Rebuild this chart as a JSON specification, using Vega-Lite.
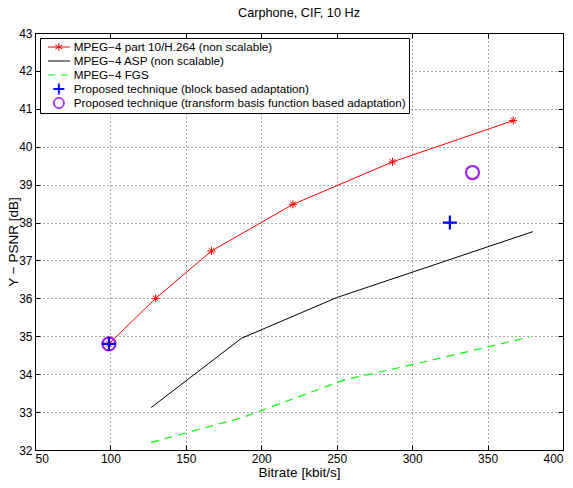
{
  "$schema": "https://vega.github.io/schema/vega-lite/v6.json",
  "width": 528,
  "height": 417,
  "autosize": {"type": "none"},
  "padding": {"left": 35, "top": 33, "right": 10, "bottom": 38},
  "background": "white",
  "title": {"text": "Carphone, CIF, 10 Hz", "fontSize": 12.7, "fontWeight": "normal", "font": "Liberation Sans", "offset": 7, "color": "black"},
  "datasets": {
    "h264": [
      {"bitrate": 99, "psnr": 34.8},
      {"bitrate": 130, "psnr": 36.0},
      {"bitrate": 167, "psnr": 37.25},
      {"bitrate": 221, "psnr": 38.48},
      {"bitrate": 287, "psnr": 39.6},
      {"bitrate": 367, "psnr": 40.69}
    ],
    "asp": [
      {"bitrate": 127, "psnr": 33.12},
      {"bitrate": 187, "psnr": 34.95},
      {"bitrate": 250, "psnr": 36.02},
      {"bitrate": 380, "psnr": 37.76}
    ],
    "fgs": [
      {"bitrate": 127, "psnr": 32.2},
      {"bitrate": 187, "psnr": 32.85},
      {"bitrate": 255, "psnr": 33.85},
      {"bitrate": 300, "psnr": 34.25},
      {"bitrate": 378, "psnr": 34.98}
    ],
    "block": [
      {"bitrate": 99, "psnr": 34.8},
      {"bitrate": 325, "psnr": 38.0}
    ],
    "transform": [
      {"bitrate": 99, "psnr": 34.8},
      {"bitrate": 340, "psnr": 39.32}
    ],
    "legend": [
      {"series": "MPEG−4 part 10/H.264 (non scalable)", "bitrate": null, "psnr": null},
      {"series": "MPEG−4 ASP (non scalable)", "bitrate": null, "psnr": null},
      {"series": "MPEG−4 FGS", "bitrate": null, "psnr": null},
      {"series": "Proposed technique (block based adaptation)", "bitrate": null, "psnr": null},
      {"series": "Proposed technique (transform basis function based adaptation)", "bitrate": null, "psnr": null}
    ]
  },
  "layer": [
    {
      "data": {"name": "h264"},
      "mark": {"type": "line", "color": "#ff0000", "strokeWidth": 1},
      "encoding": {
        "x": {"field": "bitrate", "type": "quantitative", "scale": {"domain": [50, 400], "nice": false, "zero": false},
          "axis": {"orient": "bottom", "values": [50, 100, 150, 200, 250, 300, 350, 400], "title": "Bitrate [kbit/s]",
            "grid": true, "gridDash": [1, 3], "gridColor": "#555555", "gridWidth": 1,
            "domainColor": "black", "tickColor": "black", "tickSize": -5, "labelPadding": 8,
            "labelFont": "Liberation Sans", "labelFontSize": 12, "labelColor": "black",
            "titleFont": "Liberation Sans", "titleFontSize": 13.5, "titleFontWeight": "normal", "titleColor": "black", "titlePadding": 1}},
        "y": {"field": "psnr", "type": "quantitative", "scale": {"domain": [32, 43], "nice": false, "zero": false},
          "axis": {"orient": "left", "values": [32, 33, 34, 35, 36, 37, 38, 39, 40, 41, 42, 43], "title": "Y − PSNR [dB]",
            "grid": true, "gridDash": [1, 3], "gridColor": "#555555", "gridWidth": 1,
            "domainColor": "black", "tickColor": "black", "tickSize": -5, "labelPadding": 8,
            "labelFont": "Liberation Sans", "labelFontSize": 12, "labelColor": "black",
            "titleFont": "Liberation Sans", "titleFontSize": 13.5, "titleFontWeight": "normal", "titleColor": "black", "titlePadding": -2}}
      }
    },
    {
      "data": {"name": "h264"},
      "mark": {"type": "point", "shape": "M-1,0H1M0,-1V1M-0.7,-0.7L0.7,0.7M-0.7,0.7L0.7,-0.7", "size": 64, "filled": false, "stroke": "#ff0000", "strokeWidth": 1, "opacity": 1},
      "encoding": {
        "x": {"field": "bitrate", "type": "quantitative", "axis": null},
        "y": {"field": "psnr", "type": "quantitative", "axis": null}
      }
    },
    {
      "data": {"name": "asp"},
      "mark": {"type": "line", "color": "#000000", "strokeWidth": 1},
      "encoding": {
        "x": {"field": "bitrate", "type": "quantitative", "axis": null},
        "y": {"field": "psnr", "type": "quantitative", "axis": null}
      }
    },
    {
      "data": {"name": "fgs"},
      "mark": {"type": "line", "color": "#00ff00", "strokeWidth": 1.2, "strokeDash": [8, 6]},
      "encoding": {
        "x": {"field": "bitrate", "type": "quantitative", "axis": null},
        "y": {"field": "psnr", "type": "quantitative", "axis": null}
      }
    },
    {
      "data": {"name": "transform"},
      "mark": {"type": "point", "shape": "circle", "size": 170, "filled": false, "stroke": "#a020f0", "strokeWidth": 2.2, "opacity": 1},
      "encoding": {
        "x": {"field": "bitrate", "type": "quantitative", "axis": null},
        "y": {"field": "psnr", "type": "quantitative", "axis": null}
      }
    },
    {
      "data": {"name": "block"},
      "mark": {"type": "point", "shape": "M-1,0H1M0,-1V1", "size": 196, "filled": false, "stroke": "#0000ff", "strokeWidth": 2.2, "opacity": 1},
      "encoding": {
        "x": {"field": "bitrate", "type": "quantitative", "axis": null},
        "y": {"field": "psnr", "type": "quantitative", "axis": null}
      }
    },
    {
      "data": {"name": "legend"},
      "mark": {"type": "point", "filled": false, "opacity": 1, "strokeWidth": 1, "invalid": "filter"},
      "encoding": {
        "x": {"field": "bitrate", "type": "quantitative",
          "axis": {"orient": "top", "values": [50, 100, 150, 200, 250, 300, 350, 400], "labels": false, "title": null, "grid": false,
            "domainColor": "black", "tickColor": "black", "tickSize": -5}},
        "y": {"field": "psnr", "type": "quantitative",
          "axis": {"orient": "right", "values": [32, 33, 34, 35, 36, 37, 38, 39, 40, 41, 42, 43], "labels": false, "title": null, "grid": false,
            "domainColor": "black", "tickColor": "black", "tickSize": -5}},
        "color": {"field": "series", "type": "nominal",
          "scale": {"domain": ["MPEG−4 part 10/H.264 (non scalable)", "MPEG−4 ASP (non scalable)", "MPEG−4 FGS", "Proposed technique (block based adaptation)", "Proposed technique (transform basis function based adaptation)"],
            "range": ["#ff0000", "#000000", "#00ff00", "#0000ff", "#a020f0"]},
          "legend": {"title": null}},
        "shape": {"field": "series", "type": "nominal",
          "scale": {"domain": ["MPEG−4 part 10/H.264 (non scalable)", "MPEG−4 ASP (non scalable)", "MPEG−4 FGS", "Proposed technique (block based adaptation)", "Proposed technique (transform basis function based adaptation)"],
            "range": ["M-2.2,0H2.2M0,-0.8V0.8M-0.7,-0.4L0.7,0.4M-0.7,0.4L0.7,-0.4", "M-2.2,0H2.2", "M-2.2,0H-0.8M0.4,0H1.8", "M-1.1,-0.1H1.1M-1.1,0.1H1.1M-0.1,-1.1V1.1M0.1,-1.1V1.1", "M-1.1,0A1.1,1.1 0 1,1 1.1,0A1.1,1.1 0 1,1 -1.1,0ZM-0.95,0A0.95,0.95 0 1,1 0.95,0A0.95,0.95 0 1,1 -0.95,0Z"]},
          "legend": {"title": null}}
      }
    }
  ],
  "resolve": {"axis": {"x": "independent", "y": "independent"}},
  "config": {
    "view": {"stroke": "black", "strokeWidth": 1},
    "legend": {
      "orient": "top-left", "offset": 5, "fillColor": "white", "strokeColor": "black", "padding": 3, "cornerRadius": 0,
      "labelFont": "Liberation Sans", "labelFontSize": 11.7, "labelColor": "black", "labelLimit": 500,
      "symbolSize": 100, "symbolOffset": 10, "labelOffset": 9, "rowPadding": 1, "clipHeight": 12,
      "symbolFillColor": "transparent", "symbolStrokeWidth": 1
    }
  }
}
